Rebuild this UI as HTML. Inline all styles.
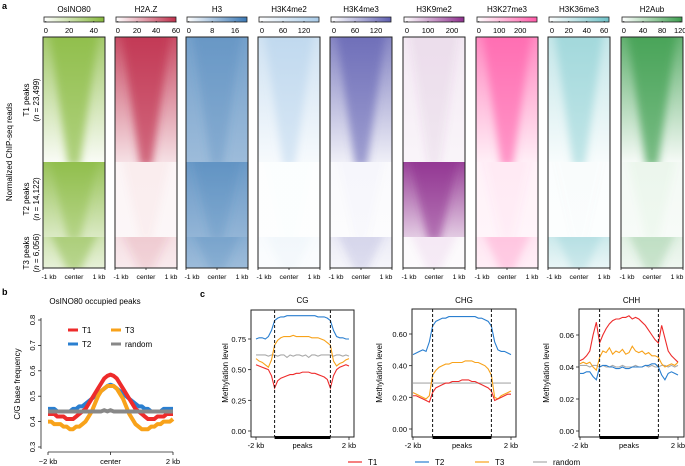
<!DOCTYPE html>
<html><head><meta charset="utf-8"><style>
html,body{margin:0;padding:0;background:#fff;width:685px;height:466px;overflow:hidden}
svg{display:block;font-family:"Liberation Sans",Arial,sans-serif}
</style></head><body>
<svg id="fig" width="685" height="466" viewBox="0 0 685 466" xmlns="http://www.w3.org/2000/svg">
<defs id="defs"><filter id="blur" x="-30%" y="-30%" width="160%" height="160%"><feGaussianBlur stdDeviation="4"/></filter></defs>
<text x="2" y="9" font-size="9" font-weight="bold">a</text>
<text x="2" y="295" font-size="9" font-weight="bold">b</text>
<text x="200" y="297" font-size="9" font-weight="bold">c</text>
<text transform="translate(12,152) rotate(-90)" text-anchor="middle" font-size="8">Normalized ChIP-seq reads</text>
<text transform="translate(29,100) rotate(-90)" text-anchor="middle" font-size="8">T1 peaks</text>
<text transform="translate(39,100) rotate(-90)" text-anchor="middle" font-size="8">(<tspan font-style="italic">n</tspan> = 23,499)</text>
<text transform="translate(29,199) rotate(-90)" text-anchor="middle" font-size="8">T2 peaks</text>
<text transform="translate(39,199) rotate(-90)" text-anchor="middle" font-size="8">(<tspan font-style="italic">n</tspan> = 14,122)</text>
<text transform="translate(29,253) rotate(-90)" text-anchor="middle" font-size="8">T3 peaks</text>
<text transform="translate(39,253) rotate(-90)" text-anchor="middle" font-size="8">(<tspan font-style="italic">n</tspan> = 6,056)</text>
<g id="heat"></g>
<g id="pb"></g>
<g id="pc"></g>
</svg>
<script>
const NS="http://www.w3.org/2000/svg";
// ---- heatmap panel data ----
const marks=["OsINO80","H2A.Z","H3","H3K4me2","H3K4me3","H3K9me2","H3K27me3","H3K36me3","H2Aub"];
const markColors=["#86b83c","#c0304c","#3a78b5","#a9cbe8","#5e5eb0","#8e2f8e","#ff5aa8","#6fc2c8","#3d9e4e"];
const tickLabels=[["0","20","40"],["0","20","40","60"],["0","8","16"],["0","60","120"],["0","60","120"],["0","100","200"],["0","100","200"],["0","20","40","60"],["0","40","80","120"]];
const tickFracs=[[0.03,0.42,0.83],[0.03,0.35,0.67,1.0],[0.03,0.42,0.8],[0.05,0.4,0.75],[0.05,0.4,0.75],[0.05,0.4,0.8],[0.03,0.37,0.72],[0.05,0.33,0.63,0.92],[0.03,0.35,0.67,0.97]];
// per block intensity: [baseTop, baseBottom, wedge] for T1,T2,T3
const blockT1=[[0.75,0.05,0.85],[0.85,0.15,1.0],[0.7,0.5,0.8],[0.55,0.1,0.6],[0.75,0.1,0.8],[0.1,0.05,0.15],[0.7,0.1,0.85],[0.4,0.05,0.55],[0.8,0.05,0.9]];
const blockT2=[[0.85,0.3,0.85],[0.05,0.04,0.08],[0.75,0.55,0.8],[0.02,0.02,0.03],[0.03,0.02,0.04],[0.9,0.25,0.95],[0.08,0.06,0.12],[0.03,0.02,0.04],[0.06,0.04,0.08]];
const blockT3=[[0.4,0.2,0.8],[0.15,0.1,0.25],[0.6,0.5,0.75],[0.08,0.05,0.15],[0.12,0.06,0.25],[0.03,0.02,0.1],[0.15,0.1,0.4],[0.35,0.15,0.45],[0.15,0.08,0.35]];
const colX=[43,115,186,258,330,403,476,548,621], W=62, Y0=37, Y1=162, Y2=237, Y3=268;
function el(t,a,p){const e=document.createElementNS(NS,t);for(const k in a)e.setAttribute(k,a[k]);(p||document.getElementById('fig')).appendChild(e);return e;}
const defs=document.getElementById('defs'), heat=document.getElementById('heat');
marks.forEach((m,i)=>{
  const x=colX[i], c=markColors[i];
  const t=el('text',{x:x+W/2,y:12,'text-anchor':'middle','font-size':8},heat);t.textContent=m;
  
  
  const g=el('linearGradient',{id:'cb'+i,x1:0,x2:1,y1:0,y2:0},defs);
  el('stop',{offset:0,'stop-color':'#fff'},g);el('stop',{offset:1,'stop-color':c},g);
  const cb=el('rect',{x:x+1,y:17,width:W-2,height:5,fill:'url(#cb'+i+')',stroke:'#222','stroke-width':0.8},heat);
  
  
  tickLabels[i].forEach((lb,j)=>{
    const tx=x+1+tickFracs[i][j]*(W-2);
    el('line',{x1:tx,x2:tx,y1:21,y2:22.5,stroke:'#222','stroke-width':0.8},heat);
    const tt=el('text',{x:tx,y:33,'text-anchor':'middle','font-size':7.5},heat);tt.textContent=lb;
    
    
  });
  [[blockT1[i],Y0,Y1],[blockT2[i],Y1,Y2],[blockT3[i],Y2,Y3]].forEach((b,k)=>{
    const id='bg'+i+'_'+k;
    const lg=el('linearGradient',{id:id,x1:0,x2:0,y1:0,y2:1},defs);
    el('stop',{offset:0,'stop-color':c,'stop-opacity':b[0][0]},lg);
    el('stop',{offset:1,'stop-color':c,'stop-opacity':b[0][1]},lg);
    const cp=el('clipPath',{id:'cp'+id},defs);
    el('rect',{x:x,y:b[1],width:W,height:b[2]-b[1]},cp);
    const grp=el('g',{'clip-path':'url(#cp'+id+')'},heat);
    const r=el('rect',{x:x,y:b[1],width:W,height:b[2]-b[1],fill:'url(#'+id+')'},grp);
    
    
    const cx=x+W/2;
    const wg=el('polygon',{points:[x+W*0.1,b[1]-6,x+W*0.9,b[1]-6,cx+6,b[2]+4,cx-6,b[2]+4].join(' '),fill:c,'fill-opacity':Math.max(0,b[0][2]-b[0][1])*0.8,filter:'url(#blur)'},grp);
    
    
  });
  el('rect',{x:x,y:Y0,width:W,height:Y3-Y0,fill:'none',stroke:'#222','stroke-width':1},heat);
  [['-1 kb',x+6],['center',x+W/2],['1 kb',x+W-6]].forEach((p,j)=>{
    el('line',{x1:x+[0,W/2,W][j],x2:x+[0,W/2,W][j],y1:Y3,y2:Y3+2,stroke:'#222','stroke-width':0.8},heat);
    const tt=el('text',{x:p[1],y:Y3+11,'text-anchor':'middle','font-size':6.8},heat);tt.textContent=p[0];
    
    
  });
});

// ---- panel b data ----
const bT1=[0.43,0.43,0.43,0.42,0.42,0.42,0.41,0.41,0.41,0.42,0.43,0.44,0.45,0.47,0.49,0.51,0.53,0.55,0.57,0.58,0.585,0.58,0.57,0.55,0.53,0.51,0.49,0.47,0.45,0.44,0.43,0.42,0.41,0.41,0.41,0.42,0.42,0.42,0.43,0.43,0.43];
const bT2=[0.45,0.45,0.45,0.44,0.44,0.44,0.44,0.44,0.45,0.45,0.46,0.46,0.47,0.48,0.49,0.50,0.51,0.52,0.53,0.54,0.545,0.54,0.53,0.52,0.51,0.50,0.49,0.48,0.47,0.46,0.46,0.45,0.45,0.44,0.44,0.44,0.44,0.45,0.45,0.45,0.45];
const bT3=[0.40,0.40,0.39,0.39,0.39,0.38,0.38,0.37,0.37,0.38,0.38,0.39,0.40,0.42,0.44,0.47,0.50,0.52,0.53,0.54,0.54,0.54,0.53,0.51,0.49,0.46,0.43,0.41,0.39,0.38,0.37,0.37,0.37,0.38,0.38,0.39,0.39,0.40,0.40,0.40,0.41];
const bRand=[0.44,0.44,0.44,0.44,0.44,0.44,0.44,0.44,0.44,0.44,0.44,0.44,0.44,0.44,0.44,0.44,0.44,0.44,0.445,0.44,0.445,0.44,0.44,0.44,0.44,0.44,0.44,0.44,0.44,0.44,0.44,0.44,0.44,0.44,0.44,0.44,0.44,0.44,0.44,0.44,0.44];
const bYTicks=["0.3","0.4","0.5","0.6","0.7","0.8"];
const bXTicks=["\u22122 kb","center","2 kb"];
const pb=document.getElementById('pb');
const bx=i=>48+i*(173-48)/40, by=v=>447-(v-0.3)*254;
let t=el('text',{x:95,y:304,'text-anchor':'middle','font-size':8},pb);t.textContent="OsINO80 occupied peaks";

el('line',{x1:41,x2:41,y1:318,y2:449,stroke:'#222','stroke-width':0.8},pb);
el('line',{x1:48,x2:173,y1:452,y2:452,stroke:'#222','stroke-width':0.8},pb);
bYTicks.forEach(s=>{const y=by(+s);el('line',{x1:38,x2:41,y1:y,y2:y,stroke:'#222','stroke-width':0.8},pb);
  const tt=el('text',{transform:`translate(35,${y}) rotate(-90)`,'text-anchor':'middle','font-size':7.5},pb);tt.textContent=s;
  });
bXTicks.forEach((s,j)=>{const x=bx(j*20);el('line',{x1:x,x2:x,y1:452,y2:455,stroke:'#222','stroke-width':0.8},pb);
  const tt=el('text',{x:x,y:464,'text-anchor':'middle','font-size':7.5},pb);tt.textContent=s;
  });
t=el('text',{transform:'translate(20,384) rotate(-90)','text-anchor':'middle','font-size':8},pb);t.textContent="C/G base frequency";

[[bT2,'#2a7fd0','t2'],[bT1,'#ee2b2b','t1'],[bT3,'#f8a21a','t3'],[bRand,'#888','random']].forEach(s=>{
  const p=el('polyline',{points:s[0].map((v,i)=>bx(i)+','+by(v)).join(' '),fill:'none',stroke:s[1],'stroke-width':4,'stroke-linejoin':'round'},pb);
  
});
[['T1','#ee2b2b',68,330],['T3','#f8a21a',111,330],['T2','#2a7fd0',68,344],['random','#888',111,344]].forEach(l=>{
  el('line',{x1:l[2],x2:l[2]+10,y1:l[3],y2:l[3],stroke:l[1],'stroke-width':3},pb);
  const tt=el('text',{x:l[2]+14,y:l[3]+3,'font-size':8},pb);tt.textContent=l[0];
  
});

// ---- panel c data ----
const cgT1=[0.54,0.53,0.52,0.51,0.50,0.45,0.35,0.41,0.43,0.44,0.45,0.46,0.46,0.47,0.47,0.48,0.48,0.48,0.47,0.47,0.46,0.45,0.44,0.42,0.35,0.45,0.50,0.52,0.53,0.54,0.53];
const cgT2=[0.75,0.76,0.76,0.75,0.77,0.82,0.90,0.92,0.93,0.93,0.94,0.94,0.94,0.94,0.94,0.94,0.94,0.94,0.94,0.94,0.93,0.93,0.93,0.92,0.90,0.82,0.77,0.76,0.76,0.75,0.75];
const cgT3=[0.59,0.57,0.56,0.54,0.52,0.58,0.70,0.74,0.76,0.77,0.77,0.77,0.78,0.77,0.77,0.77,0.77,0.77,0.76,0.76,0.76,0.75,0.74,0.72,0.70,0.57,0.53,0.55,0.56,0.58,0.59];
const cgRand=[0.62,0.62,0.62,0.62,0.61,0.62,0.62,0.61,0.62,0.62,0.60,0.62,0.61,0.62,0.62,0.61,0.62,0.60,0.62,0.62,0.61,0.62,0.62,0.62,0.62,0.61,0.62,0.62,0.61,0.62,0.61];
const chgT1=[0.21,0.21,0.20,0.19,0.18,0.17,0.23,0.26,0.27,0.28,0.29,0.29,0.30,0.30,0.30,0.31,0.31,0.31,0.30,0.30,0.29,0.28,0.27,0.26,0.24,0.18,0.19,0.20,0.21,0.22,0.22];
const chgT2=[0.47,0.48,0.49,0.50,0.49,0.55,0.65,0.68,0.69,0.70,0.70,0.71,0.71,0.71,0.71,0.71,0.71,0.71,0.71,0.71,0.70,0.70,0.69,0.68,0.65,0.55,0.50,0.49,0.49,0.48,0.47];
const chgT3=[0.23,0.22,0.21,0.20,0.19,0.21,0.34,0.37,0.39,0.40,0.41,0.41,0.42,0.42,0.42,0.42,0.43,0.43,0.43,0.42,0.42,0.41,0.40,0.38,0.34,0.20,0.19,0.21,0.22,0.23,0.24];
const chgRand=[0.29,0.29,0.29,0.29,0.29,0.29,0.29,0.29,0.29,0.29,0.29,0.29,0.29,0.29,0.29,0.29,0.29,0.29,0.29,0.29,0.29,0.29,0.29,0.29,0.29,0.29,0.29,0.29,0.29,0.29,0.29];
const chhT1=[0.044,0.045,0.047,0.050,0.060,0.068,0.055,0.060,0.064,0.067,0.069,0.070,0.070,0.071,0.071,0.072,0.070,0.071,0.070,0.068,0.066,0.063,0.060,0.057,0.055,0.066,0.058,0.050,0.047,0.045,0.043];
const chhT2=[0.036,0.036,0.037,0.037,0.034,0.032,0.040,0.041,0.041,0.040,0.040,0.039,0.039,0.040,0.039,0.039,0.040,0.040,0.040,0.040,0.041,0.041,0.042,0.042,0.040,0.035,0.032,0.036,0.037,0.036,0.035];
const chhT3=[0.042,0.043,0.042,0.043,0.040,0.038,0.046,0.050,0.049,0.052,0.048,0.050,0.049,0.051,0.048,0.049,0.053,0.050,0.049,0.050,0.048,0.049,0.047,0.047,0.046,0.042,0.040,0.041,0.042,0.041,0.043];
const chhRand=[0.041,0.041,0.041,0.040,0.041,0.041,0.040,0.041,0.040,0.040,0.041,0.040,0.040,0.041,0.040,0.040,0.040,0.041,0.040,0.040,0.041,0.040,0.041,0.040,0.040,0.041,0.041,0.040,0.041,0.040,0.041];
const cgTicks=["0.00","0.25","0.50","0.75"], chgTicks=["0.00","0.20","0.40","0.60"], chhTicks=["0.00","0.02","0.04","0.06"];
const pc=document.getElementById('pc');
const panels=[
 {name:'CG',box:[251,310,354,437],x0:256,x1:349,y0:431,ymax:0.75,ytop:339,ticks:cgTicks,ylab:228,s:[cgRand,cgT3,cgT1,cgT2]},
 {name:'CHG',box:[412,309,516,437],x0:413,x1:511,y0:429,ymax:0.60,ytop:334,ticks:chgTicks,ylab:382,s:[chgRand,chgT3,chgT1,chgT2]},
 {name:'CHH',box:[579,309,684,437],x0:580,x1:678,y0:431,ymax:0.06,ytop:335,ticks:chhTicks,ylab:549,s:[chhRand,chhT3,chhT1,chhT2]}];
const sc=['#aaa','#f8a21a','#ee2b2b','#2a7fd0'], sn=['random','t3','t1','t2'];
panels.forEach(P=>{
  const [bx0,by0,bx1,by1]=P.box;
  const ys=v=>P.y0-v/P.ymax*(P.y0-P.ytop);
  const xs=i=>P.x0+i/30*(P.x1-P.x0);
  let tt=el('text',{x:(bx0+bx1)/2,y:303,'text-anchor':'middle','font-size':8},pc);tt.textContent=P.name;
  
  P.ticks.forEach(s=>{const y=ys(+s);el('line',{x1:bx0-3,x2:bx0,y1:y,y2:y,stroke:'#222','stroke-width':0.8},pc);
    const t2=el('text',{x:bx0-5,y:y+3,'text-anchor':'end','font-size':7.5},pc);t2.textContent=s;
    });
  tt=el('text',{transform:`translate(${P.ylab},373) rotate(-90)`,'text-anchor':'middle','font-size':8},pc);tt.textContent="Methylation level";
  
  P.s.forEach((d,k)=>{const p=el('polyline',{points:d.map((v,i)=>xs(i)+','+ys(v)).join(' '),fill:'none',stroke:sc[k],'stroke-width':1.1},pc);
    });
  [6,24].forEach(i=>el('line',{x1:xs(i),x2:xs(i),y1:by0,y2:by1,stroke:'#111','stroke-width':1,'stroke-dasharray':'3,2'},pc));
  el('rect',{x:bx0,y:by0,width:bx1-bx0,height:by1-by0,fill:'none',stroke:'#222','stroke-width':1},pc);
  el('rect',{x:xs(6),y:by1-1,width:xs(24)-xs(6),height:3,fill:'#000'},pc);
  [['-2 kb',0],['peaks',15],['2 kb',30]].forEach(q=>{
    if(q[1]!==15) el('line',{x1:xs(q[1]),x2:xs(q[1]),y1:by1,y2:by1+3,stroke:'#222','stroke-width':0.8},pc);
    const t3=el('text',{x:xs(q[1]),y:448,'text-anchor':'middle','font-size':7.5},pc);t3.textContent=q[0];
    });
});
[['T1','#ee2b2b',348],['T2','#2a7fd0',415],['T3','#f8a21a',475],['random','#aaa',533]].forEach(l=>{
  el('line',{x1:l[2],x2:l[2]+14,y1:462,y2:462,stroke:l[1],'stroke-width':1.2},pc);
  const tt=el('text',{x:l[2]+20,y:465,'font-size':8},pc);tt.textContent=l[0];
  
});
</script>
</body></html>
